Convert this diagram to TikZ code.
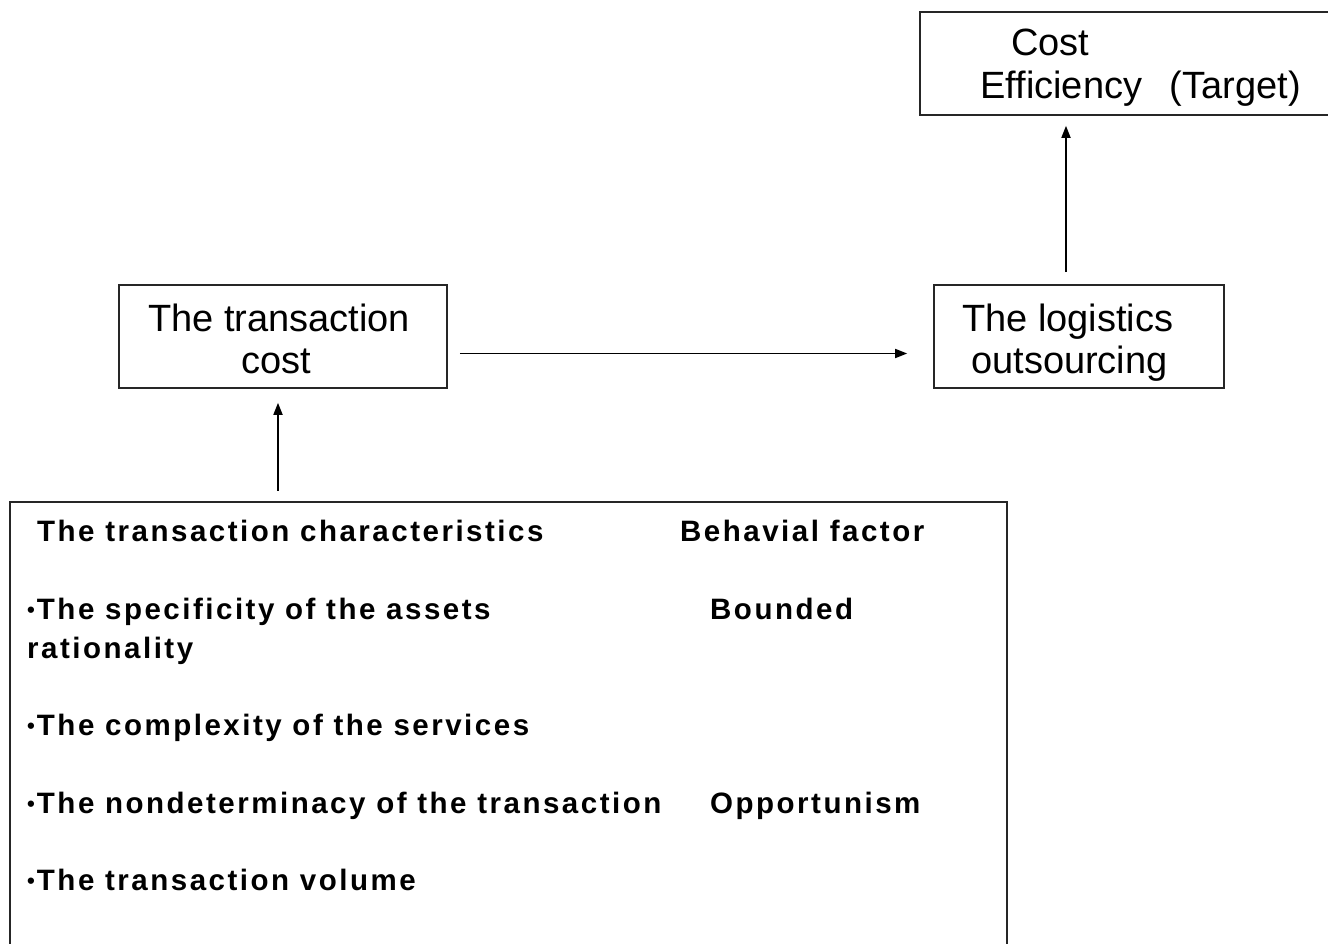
\documentclass[tikz,border=0pt]{standalone}
\usepackage{fontspec}
\setmainfont{Liberation Sans}
\newfontfamily\spacedfont[LetterSpace=8.5]{Liberation Sans}
\usetikzlibrary{arrows.meta}
\newcommand{\smallbullet}{\raisebox{2pt}{\scalebox{0.75}{\textbullet}}\hspace{2pt}}
\begin{document}
\begin{tikzpicture}[x=1pt,y=-1pt,
  box/.style={draw=black!85, line width=1.6pt, rectangle, inner sep=0pt},
  arr/.style={line width=1.7pt, -{Triangle[length=12pt,width=9pt]}},
  big/.style={inner sep=0pt, anchor=base west, font=\fontsize{38}{44}\selectfont},
  small/.style={inner sep=0pt, anchor=base west, font=\spacedfont\bfseries\fontsize{29.5}{34}\selectfont}]
\useasboundingbox (0,0) rectangle (1328,944);
\clip (0,0) rectangle (1328,944);
\fill[white] (0,0) rectangle (1328,944);
% boxes
\node[box, minimum width=420pt, minimum height=103pt] (ce) at (1130,63.5) {};
\node[box, minimum width=328pt, minimum height=103pt] (tc) at (283,336.5) {};
\node[box, minimum width=290pt, minimum height=103pt] (lo) at (1079,336.5) {};
\node[box, minimum width=997pt, minimum height=480pt] (bb) at (508.5,742) {};
% texts
\node[big] (t1) at (1011,56) {Cost};
\node[big] (t2) at (980,99) {Efficiency\hspace{0.45em} (Target)};
\node[big] (t3) at (148,331) {The transaction};
\node[big] (t4) at (241,373) {cost};
\node[big] (t5) at (962,331) {The logistics};
\node[big] (t6) at (971,373) {outsourcing};
\node[small] (s1) at (37,541) {The transaction characteristics};
\node[small] (s2) at (680,541) {Behavial factor};
\node[small] (s3) at (27,619) {\smallbullet The specificity of the assets};
\node[small] (s4) at (710,619) {Bounded};
\node[small] (s5) at (27,658) {rationality};
\node[small] (s6) at (27,735) {\smallbullet The complexity of the services};
\node[small] (s7) at (27,813) {\smallbullet The nondeterminacy of the transaction};
\node[small] (s8) at (710,813) {Opportunism};
\node[small] (s9) at (27,890) {\smallbullet The transaction volume};
% connectors
\draw[arr] ([xshift=-5pt,yshift=-102pt]tc.south) -- ([xshift=-5pt,yshift=-14pt]tc.south);
\draw[arr] ([xshift=12pt,yshift=-17pt]tc.east) -- ([xshift=-26pt,yshift=-17pt]lo.west);
\draw[arr] ([xshift=-13pt,yshift=12pt]lo.north) -- ([xshift=-13pt,yshift=-10pt]lo.north |- ce.south);
\end{tikzpicture}
\end{document}
